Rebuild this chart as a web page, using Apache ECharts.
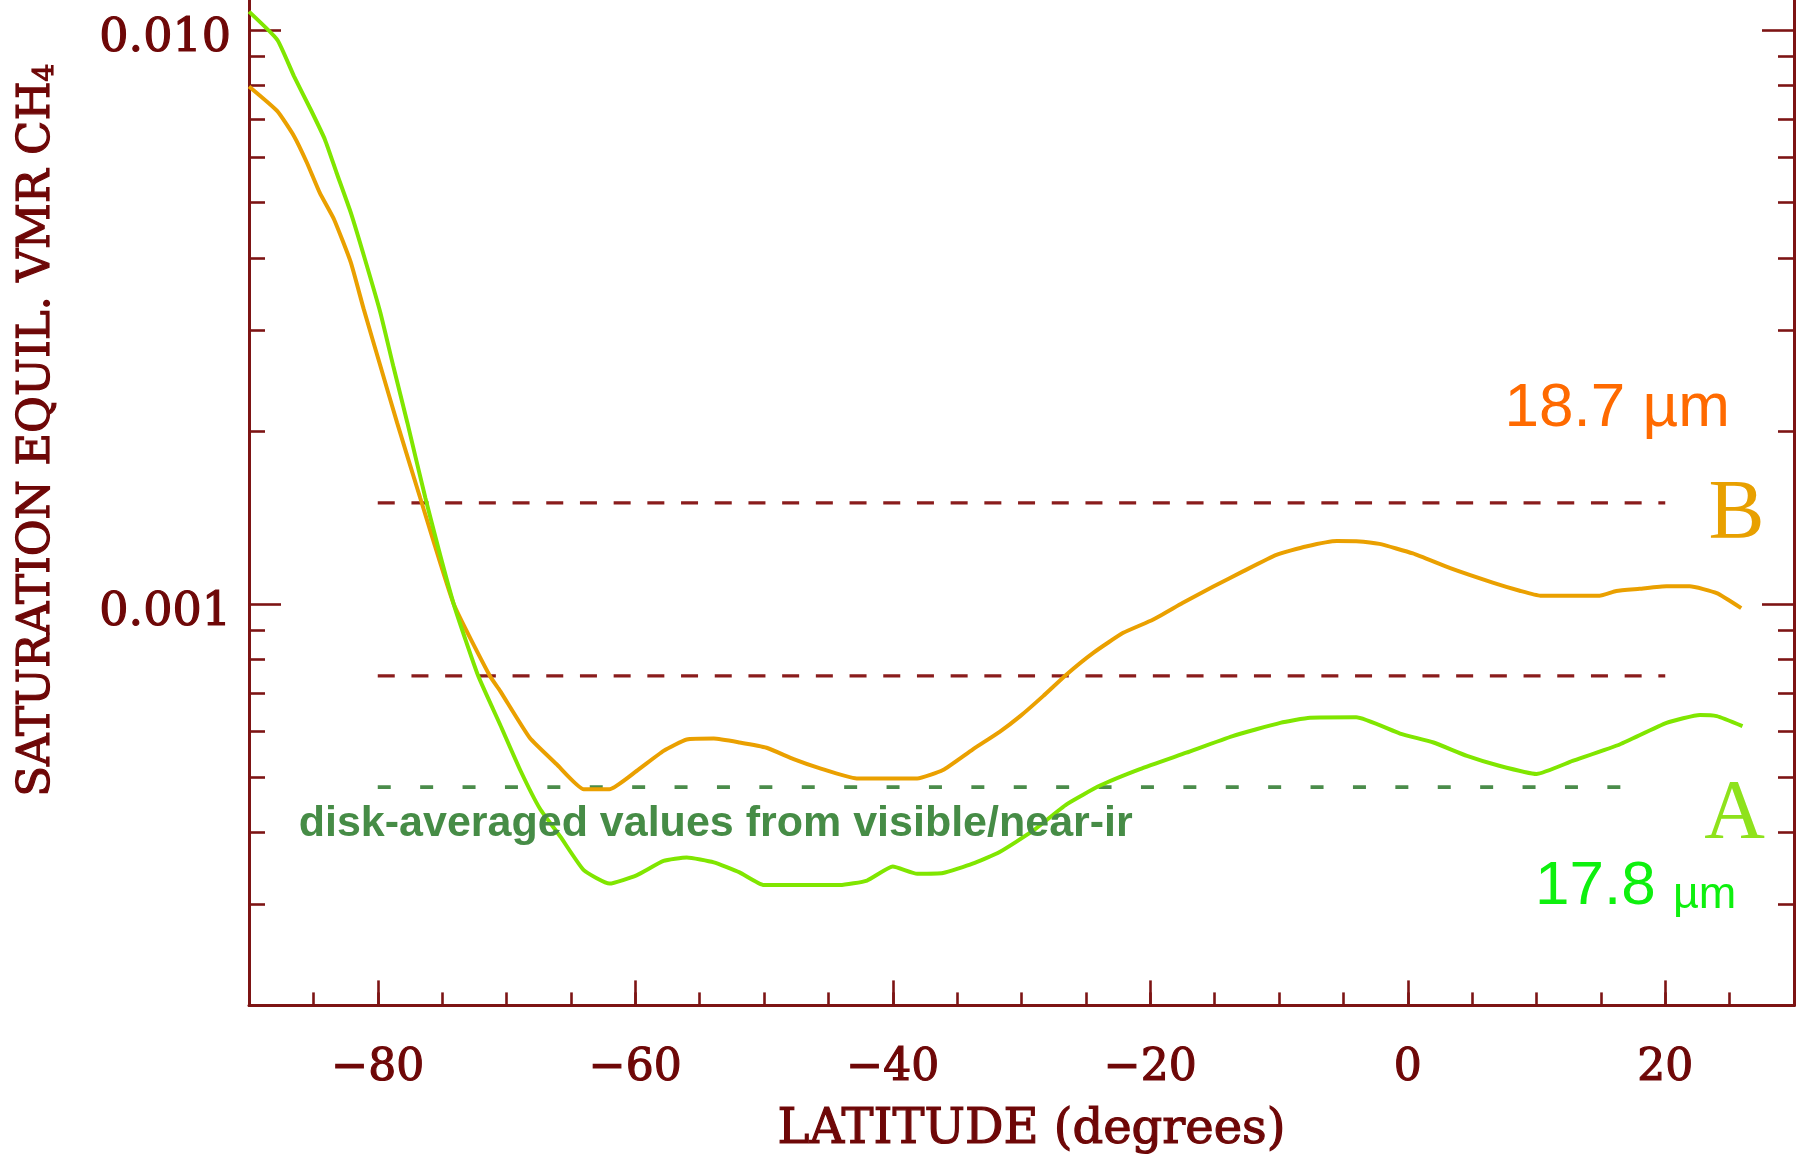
<!DOCTYPE html>
<html><head><meta charset="utf-8">
<script src="https://cdn.jsdelivr.net/npm/echarts@6/dist/echarts.min.js"></script>
<style>html,body{margin:0;padding:0;background:#fff}#c{width:1796px;height:1160px}</style>
</head><body><div id="c"></div><script>
// ---- data ----
const latB = [-90,-87.8,-86.5,-85.5,-84.5,-83.4,-82.1,-81.1,-79.8,-78.5,-76.7,-74.1,-71.3,-70.5,-68.2,-66.1,-64.0,-62.0,-59.9,-57.8,-56.0,-53.9,-51.9,-49.8,-47.7,-45.7,-42.8,-38.1,-36.1,-33.8,-31.7,-30.1,-28.3,-26.5,-24.4,-22.1,-19.8,-17.5,-15.1,-12.8,-10.2,-7.9,-5.5,-4.0,-2.2,0.4,3.3,6.6,8.7,10.3,14.9,16.2,18.0,20.1,21.9,24.0,25.9];
const vmrB = [0.00797,0.00722,0.00653,0.00587,0.0052,0.00468,0.00394,0.00327,0.0026,0.00207,0.00153,0.00100,0.00075,0.000706,0.000585,0.000526,0.000476,0.000476,0.000512,0.000555,0.000581,0.000583,0.000574,0.000562,0.000537,0.000518,0.000497,0.000497,0.000514,0.000558,0.000599,0.000638,0.000692,0.000754,0.000823,0.000891,0.000939,0.001004,0.001073,0.00114,0.001218,0.00126,0.001288,0.001287,0.001273,0.001225,0.001155,0.00109,0.001055,0.001034,0.001034,0.001054,0.001063,0.001074,0.001074,0.001045,0.000984];
const latA = [-90,-87.8,-86.5,-85.2,-84.1,-83.2,-82.1,-81.0,-79.8,-78.8,-77.7,-76.3,-74.1,-72.2,-70.5,-68.9,-67.4,-65.8,-64.0,-62.0,-59.9,-57.8,-56.0,-53.9,-51.9,-50.0,-44.1,-42.0,-40.0,-38.1,-36.1,-33.8,-31.7,-29.1,-26.5,-23.9,-20.8,-17.2,-13.6,-9.9,-7.6,-4.0,-0.6,2.0,4.6,7.1,10.0,12.8,16.5,20.1,22.7,24.0,26.0];
const vmrA = [0.01076,0.00961,0.0083,0.00726,0.00644,0.00564,0.00481,0.00399,0.00322,0.0026,0.00207,0.00153,0.00100,0.00075,0.000617,0.000512,0.00044,0.000393,0.000344,0.000326,0.000337,0.000357,0.000362,0.000355,0.000341,0.000324,0.000324,0.00033,0.000349,0.000339,0.00034,0.000353,0.00037,0.000403,0.000448,0.000483,0.000516,0.000551,0.000589,0.000621,0.000634,0.000635,0.000595,0.000574,0.000544,0.000523,0.000506,0.000533,0.00057,0.000621,0.000641,0.000638,0.000613];

const xMajorTicks = [-80,-60,-40,-20,0,20];
const yMajorTicks = [0.001,0.01];
const yMinorTicks = [0.0003,0.0004,0.0005,0.0006,0.0007,0.0008,0.0009,0.002,0.003,0.004,0.005,0.006,0.007,0.008,0.009];

const refLat = [-80,20];
const refHigh = 0.0015;
const refLow = 0.00075;
const diskLat = [-80,17];
const diskVal = 0.00048;

const annoText = ['18.7 µm','B','A','{a|17.8 }{b|µm}','disk-averaged values from visible/near-ir'];
const annoLat  = [16.27, 25.54, 25.39, 17.7, -86.14];
const annoVal  = [0.002189, 0.001422, 0.000428, 0.000322, 0.000414];

// ---- styling ----
const AX = '#7d1414', LBL = '#6e0707', SERIF = 'DejaVu Serif';
const yMin = 0.0002, yMax = 0.011274;
const heavy = {textBorderColor: LBL, textBorderWidth: 1.2};

function yAx(pos, ticks, len, labels, line) {
  return {
    type: 'log', logBase: 10, min: yMin, max: yMax, position: pos,
    axisLine: {show: line, onZero: false, lineStyle: {color: AX, width: 3}},
    axisTick: {show: true, inside: true, length: len, customValues: ticks, lineStyle: {color: AX, width: 2.6}},
    axisLabel: labels ? Object.assign({show: true, customValues: ticks, margin: 18, color: LBL, fontFamily: SERIF, fontSize: 46,
      verticalAlign: 'top', lineHeight: 18, formatter: v => Number(v).toFixed(3)}, heavy) : {show: false},
    splitLine: {show: false}, minorTick: {show: false}
  };
}

const chart = echarts.init(document.getElementById('c'), null, {renderer: 'canvas'});
const option = {
  animation: false,
  backgroundColor: '#ffffff',
  grid: {left: 249, right: 2, top: 0, bottom: 151, containLabel: false},
  xAxis: [
    {type: 'value', min: -90, max: 30, interval: 5, position: 'bottom',
     axisLine: {show: false, onZero: false}, axisTick: {show: true, inside: true, length: 13, lineStyle: {color: AX, width: 2.6}},
     axisLabel: {show: false}, splitLine: {show: false}},
    {type: 'value', min: -90, max: 30, position: 'bottom',
     axisLine: {show: true, onZero: false, lineStyle: {color: AX, width: 3}},
     axisTick: {show: true, inside: true, length: 25, customValues: xMajorTicks, lineStyle: {color: AX, width: 2.6}},
     axisLabel: Object.assign({show: true, customValues: xMajorTicks, margin: 41, color: LBL, fontFamily: SERIF, fontSize: 44,
       formatter: v => (v < 0 ? '\u2212' + (-v) : String(v))}, heavy),
     splitLine: {show: false},
     name: 'LATITUDE (degrees)', nameLocation: 'middle', nameGap: 101,
     nameTextStyle: Object.assign({color: LBL, fontFamily: SERIF, fontSize: 48, padding: [0,0,0,20]}, heavy)}
  ],
  yAxis: [
    Object.assign(yAx('left', yMajorTicks, 32, true, true), {
      name: '{m|SATURATION EQUIL. VMR CH}{s|4}', nameLocation: 'middle', nameGap: 189,
      nameTextStyle: {padding: [0,0,0,145], rich: {
        m: Object.assign({color: LBL, fontFamily: SERIF, fontSize: 45, lineHeight: 45, verticalAlign: 'bottom'}, heavy),
        s: Object.assign({color: LBL, fontFamily: SERIF, fontSize: 28, lineHeight: 21, verticalAlign: 'bottom'}, heavy)}}
    }),
    yAx('left', yMinorTicks, 16, false, false),
    yAx('right', yMajorTicks, 32, false, true),
    yAx('right', yMinorTicks, 16, false, false)
  ],
  series: [
    {type: 'line', name: 'ref high', xAxisIndex: 0, yAxisIndex: 0, showSymbol: false, silent: true,
     data: refLat.map(x => [x, refHigh]), lineStyle: {color: '#8a1c1c', width: 3.3, type: [17, 16.7]}, z: 2},
    {type: 'line', name: 'ref low', xAxisIndex: 0, yAxisIndex: 0, showSymbol: false, silent: true,
     data: refLat.map(x => [x, refLow]), lineStyle: {color: '#8a1c1c', width: 3.3, type: [17, 16.7]}, z: 2},
    {type: 'line', name: 'disk-averaged', xAxisIndex: 0, yAxisIndex: 0, showSymbol: false, silent: true,
     data: diskLat.map(x => [x, diskVal]), lineStyle: {color: '#4a8c4a', width: 3.6, type: [13, 29.4]}, z: 2},
    {type: 'line', name: 'B (18.7 µm)', xAxisIndex: 0, yAxisIndex: 0, showSymbol: false, smooth: 0.15,
     data: latB.map((x, i) => [x, vmrB[i]]), lineStyle: {color: '#eaa000', width: 4}, z: 3},
    {type: 'line', name: 'A (17.8 µm)', xAxisIndex: 0, yAxisIndex: 0, showSymbol: false, smooth: 0.15,
     data: latA.map((x, i) => [x, vmrA[i]]), lineStyle: {color: '#80e600', width: 4}, z: 4}
  ]
};
chart.setOption(option);

const annoStyle = [
  {fill: '#ff6a00', fontFamily: 'Liberation Sans', fontSize: 62},
  {fill: '#e8a000', fontFamily: 'Liberation Serif', fontSize: 84},
  {fill: '#8ee21c', fontFamily: 'Liberation Serif', fontSize: 84},
  {fill: '#0ef00e', fontFamily: 'Liberation Sans', rich: {
    a: {fill: '#0ef00e', fontFamily: 'Liberation Sans', fontSize: 62, verticalAlign: 'bottom', lineHeight: 62},
    b: {fill: '#0ef00e', fontFamily: 'Liberation Sans', fontSize: 45, verticalAlign: 'bottom', lineHeight: 50}}},
  {fill: '#468c46', fontFamily: 'Liberation Sans', fontWeight: 'bold', fontSize: 43}
];
const annoAlign = ['center','center','center','center','left'];
const graphic = annoText.map((t, i) => {
  const p = chart.convertToPixel({xAxisIndex: 0, yAxisIndex: 0}, [annoLat[i], annoVal[i]]);
  return {type: 'text', x: p[0], y: p[1], z: 10, silent: true,
    style: Object.assign({text: t, align: annoAlign[i], verticalAlign: 'middle'}, annoStyle[i])};
});
chart.setOption({graphic: graphic});
</script></body></html>
